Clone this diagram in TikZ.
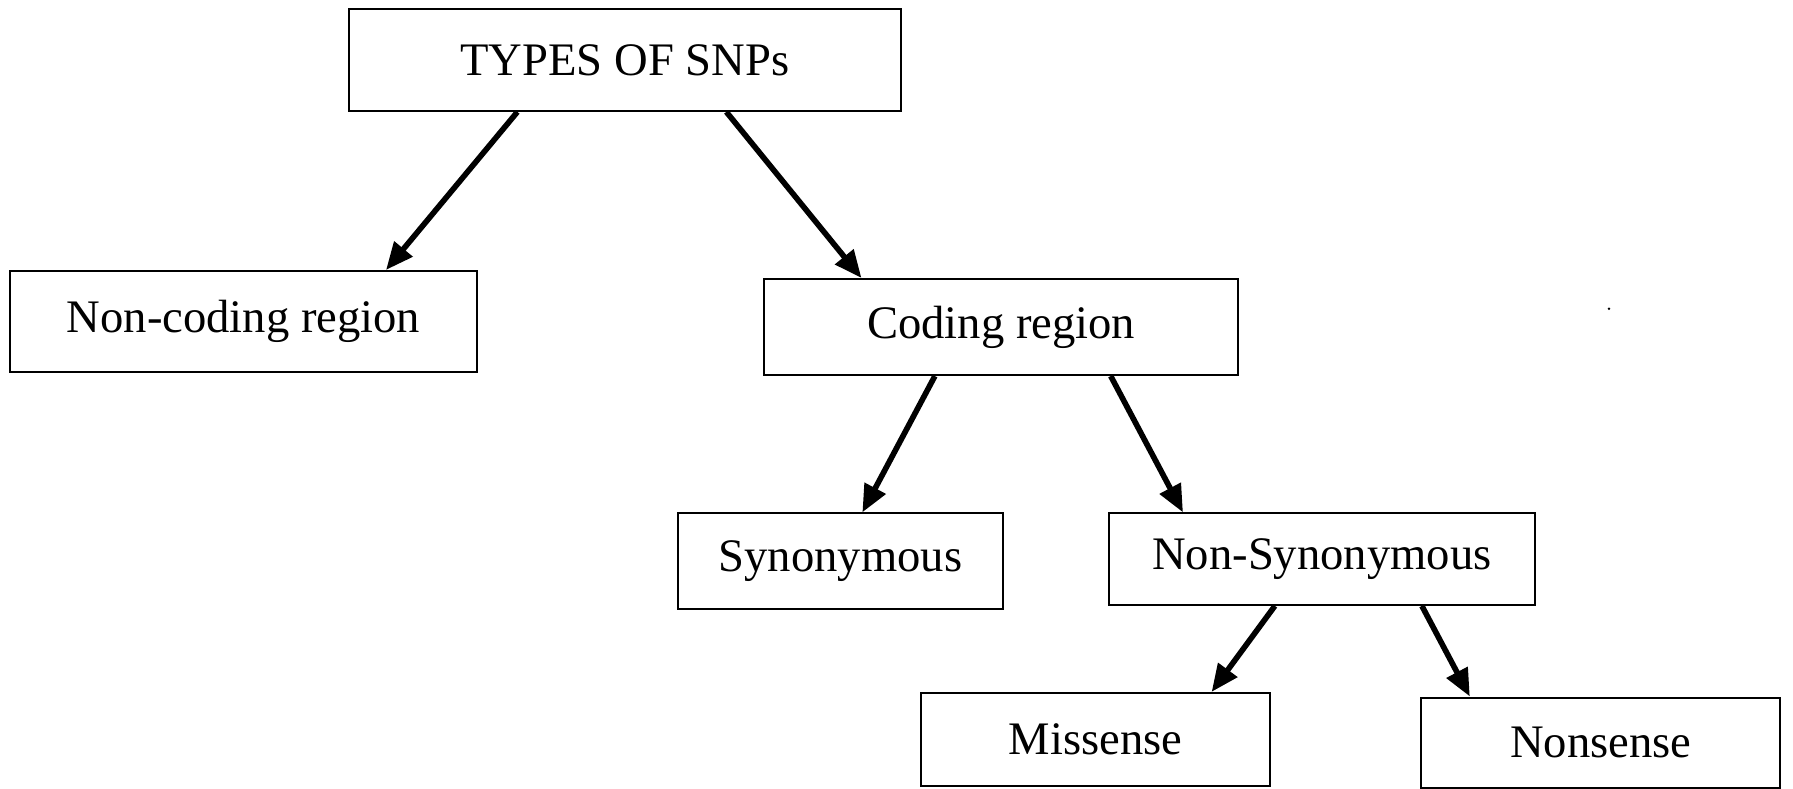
\documentclass[tikz,border=0pt]{standalone}
\usepackage{fontspec}
\setmainfont{Liberation Serif}
\usetikzlibrary{arrows.meta,calc}

\begin{document}
\begin{tikzpicture}[x=0.1mm,y=0.1mm]
	\tikzstyle{every node}+=[inner sep=0pt,font=\fontsize{11.6}{14}\selectfont]
	\tikzstyle{snpbox}=[draw=black,line width=0.5pt,rectangle]
	\tikzstyle{link}=[black,line width=1.4pt,-{Triangle[length=2.4mm,width=2mm]}]
	\useasboundingbox (0,0) rectangle (1568,-690);
	\node [snpbox,minimum width=48.3mm,minimum height=8.9mm] (types) at (546.5,-52.5) {TYPES OF SNPs};
	\node [snpbox,minimum width=40.8mm,minimum height=8.8mm] (noncoding) at (213,-281) {Non-coding region};
	\node [snpbox,minimum width=41.5mm,minimum height=8.4mm] (coding) at (875.5,-286) {Coding region};
	\node [snpbox,minimum width=28.4mm,minimum height=8.4mm] (syn) at (735,-491) {Synonymous};
	\node [snpbox,minimum width=37.2mm,minimum height=8.0mm] (nonsyn) at (1156,-489) {Non-Synonymous};
	\node [snpbox,minimum width=30.6mm,minimum height=8.1mm] (missense) at (958,-646.5) {Missense};
	\node [snpbox,minimum width=31.4mm,minimum height=7.9mm] (nonsense) at (1400,-649.5) {Nonsense};
	\draw [link] ($(types.south west)!0.306!(types.south east)$) -- ($(noncoding.north west)!0.804!(noncoding.north east)$);
	\draw [link] ($(types.south west)!0.683!(types.south east)$) -- ($(coding.north west)!0.207!(coding.north east)$);
	\draw [link] ($(coding.south west)!0.361!(coding.south east)$) -- ($(syn.north west)!0.567!(syn.north east)$);
	\draw [link] ($(coding.south west)!0.730!(coding.south east)$) -- ($(nonsyn.north west)!0.175!(nonsyn.north east)$);
	\draw [link] ($(nonsyn.south west)!0.390!(nonsyn.south east)$) -- ($(missense.north west)!0.830!(missense.north east)$);
	\draw [link] ($(nonsyn.south west)!0.734!(nonsyn.south east)$) -- ($(nonsense.north west)!0.137!(nonsense.north east)$);
	\fill [black] (1407,-270) circle (1.2);
\end{tikzpicture}
\end{document}
